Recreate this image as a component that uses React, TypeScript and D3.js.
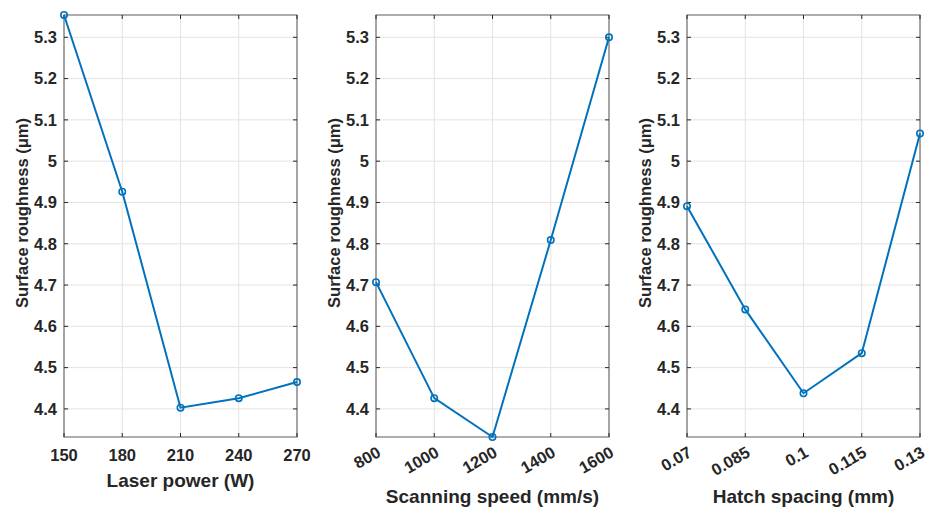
import { useEffect, useRef } from "react";
import * as d3 from "d3";

// shared y values (surface roughness, µm)
const yTicks = [4.4, 4.5, 4.6, 4.7, 4.8, 4.9, 5, 5.1, 5.2, 5.3];
const yDomain = [4.332, 5.354];

const laserPower = [150, 180, 210, 240, 270];
const roughPower = [5.354, 4.926, 4.403, 4.426, 4.465];

const scanSpeed = [800, 1000, 1200, 1400, 1600];
const roughSpeed = [4.707, 4.426, 4.332, 4.809, 5.3];

const hatch = [0.07, 0.085, 0.1, 0.115, 0.13];
const roughHatch = [4.891, 4.641, 4.438, 4.535, 5.067];

const ink = "#262626";
const blue = "#0072BD";
const font = "'Liberation Sans', Arial, Helvetica, sans-serif";

type PanelProps = {
  xs: number[];
  ys: number[];
  label: string;
  left: number;
  right: number;
  rotate: boolean;
  fmt: (d: number) => string;
};

function Panel({ xs, ys, label, left, right, rotate, fmt }: PanelProps) {
  const ref = useRef<SVGGElement>(null);

  useEffect(() => {
    const top = 15;
    const bottom = 437;
    const g = d3.select(ref.current);
    g.selectAll("*").remove();

    const x = d3.scaleLinear().domain([xs[0], xs[xs.length - 1]]).range([left, right]);
    const y = d3.scaleLinear().domain(yDomain).range([bottom, top]);

    // grid
    g.selectAll(".gx").data(xs).join("line")
      .attr("x1", d => x(d)).attr("x2", d => x(d))
      .attr("y1", top).attr("y2", bottom)
      .attr("stroke", "#e3e3e3").attr("stroke-width", 1);
    g.selectAll(".gy").data(yTicks).join("line")
      .attr("x1", left).attr("x2", right)
      .attr("y1", d => y(d)).attr("y2", d => y(d))
      .attr("stroke", "#e3e3e3").attr("stroke-width", 1);

    // ticks inward on all four sides
    const tl = 4;
    xs.forEach(d => {
      g.append("line").attr("x1", x(d)).attr("x2", x(d)).attr("y1", bottom).attr("y2", bottom - tl).attr("stroke", ink);
      g.append("line").attr("x1", x(d)).attr("x2", x(d)).attr("y1", top).attr("y2", top + tl).attr("stroke", ink);
    });
    yTicks.forEach(d => {
      g.append("line").attr("x1", left).attr("x2", left + tl).attr("y1", y(d)).attr("y2", y(d)).attr("stroke", ink);
      g.append("line").attr("x1", right).attr("x2", right - tl).attr("y1", y(d)).attr("y2", y(d)).attr("stroke", ink);
    });

    // box
    g.append("rect")
      .attr("x", left).attr("y", top)
      .attr("width", right - left).attr("height", bottom - top)
      .attr("fill", "none").attr("stroke", ink).attr("stroke-opacity", 0.75).attr("stroke-width", 1);

    // y tick labels
    g.selectAll(".yl").data(yTicks).join("text")
      .attr("x", left - 7).attr("y", d => y(d))
      .attr("dy", "0.35em").attr("text-anchor", "end")
      .attr("font-family", font).attr("font-weight", "bold").attr("font-size", 16.5)
      .attr("fill", ink).text(d => String(d));

    // x tick labels
    const xl = g.selectAll(".xl").data(xs).join("text")
      .attr("font-family", font).attr("font-weight", "bold").attr("font-size", 16.5)
      .attr("fill", ink).text(d => fmt(d));
    if (rotate) {
      xl.attr("text-anchor", "end")
        .attr("transform", d => `translate(${x(d) + 1},${bottom + 10}) rotate(-30)`)
        .attr("dy", "0.6em");
    } else {
      xl.attr("text-anchor", "middle").attr("x", d => x(d)).attr("y", bottom + 24);
    }

    // axis labels
    g.append("text")
      .attr("x", (left + right) / 2).attr("y", rotate ? 503 : 487)
      .attr("text-anchor", "middle")
      .attr("font-family", font).attr("font-weight", "bold").attr("font-size", 19)
      .attr("fill", ink).text(label);
    g.append("text")
      .attr("transform", `translate(${left - 36},213) rotate(-90)`)
      .attr("text-anchor", "middle")
      .attr("font-family", font).attr("font-weight", "bold").attr("font-size", 16.5)
      .attr("fill", ink).text("Surface roughness (μm)");

    // line + markers
    const pts = xs.map((d, i) => [d, ys[i]] as [number, number]);
    const line = d3.line<[number, number]>().x(d => x(d[0])).y(d => y(d[1]));
    g.append("path").datum(pts)
      .attr("d", line).attr("fill", "none")
      .attr("stroke", blue).attr("stroke-width", 2);
    g.selectAll(".pt").data(pts).join("circle")
      .attr("cx", d => x(d[0])).attr("cy", d => y(d[1])).attr("r", 3.2)
      .attr("fill", "none").attr("stroke", blue).attr("stroke-width", 1.6);
  }, [xs, ys, label, left, right, rotate, fmt]);

  return <g ref={ref} />;
}

export default function App() {
  return (
    <svg width={928} height={511} style={{ position: "absolute", left: 0, top: 0, background: "#fff" }}>
      <Panel xs={laserPower} ys={roughPower} label="Laser power (W)" left={64} right={297} rotate={false} fmt={d => String(d)} />
      <Panel xs={scanSpeed} ys={roughSpeed} label="Scanning speed (mm/s)" left={376} right={609} rotate={true} fmt={d => String(d)} />
      <Panel xs={hatch} ys={roughHatch} label="Hatch spacing (mm)" left={687} right={920} rotate={true} fmt={d => String(d)} />
    </svg>
  );
}
